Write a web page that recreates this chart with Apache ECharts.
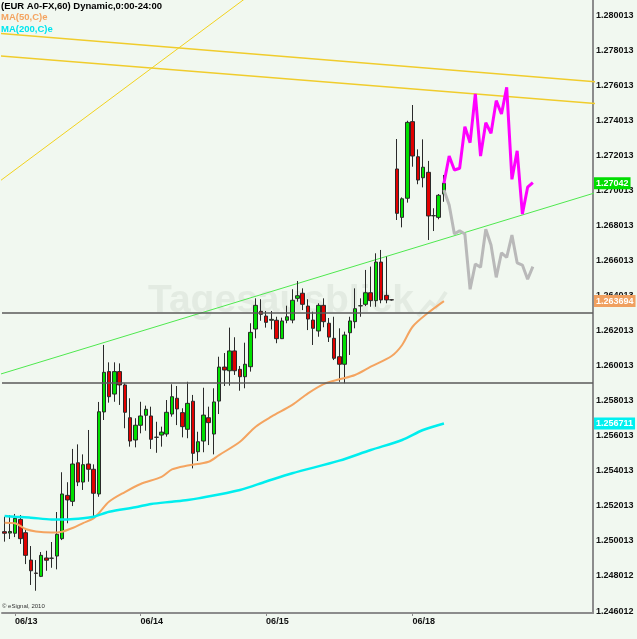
<!DOCTYPE html>
<html><head><meta charset="utf-8">
<script src="https://cdn.jsdelivr.net/npm/echarts@6.0.0/dist/echarts.min.js"></script>
<style>html,body{margin:0;padding:0;background:#f1f8f0}#c{width:637px;height:639px}</style>
</head><body><div id="c"></div>
<script>
// ---- data (EUR A0-FX, 60 min) ----
const opens = [1.25054,1.25046,1.25045,1.25124,1.25048,1.24892,1.24818,1.24799,1.24904,1.24903,
1.24915,1.25014,1.25261,1.25227,1.25447,1.25337,1.25440,1.25410,1.25269,1.25737,
1.25967,1.25839,1.25967,1.25891,1.25704,1.25577,1.25661,1.25718,1.25714,1.25593,
1.25605,1.25611,1.25725,1.25815,1.25733,1.25638,1.25798,1.25510,1.25571,1.25704,
1.25611,1.25799,1.25993,1.25972,1.26085,1.25980,1.25938,1.25995,1.26210,1.26311,
1.26284,1.26260,1.26260,1.26155,1.26260,1.26261,1.26385,1.26414,1.26341,1.26261,
1.26199,1.26345,1.26243,1.26157,1.26052,1.26009,1.26189,1.26252,1.26342,1.26351,
1.26417,1.26372,1.26592,1.26402,1.26377,1.27123,1.26847,1.26956,1.27393,1.27193,
1.27073,1.27104,1.26856,1.26847,1.26980];
const closes = [1.25045,1.25055,1.25130,1.25014,1.24919,1.24831,1.24816,1.24919,1.24891,1.24902,
1.25039,1.25269,1.25235,1.25440,1.25337,1.25436,1.25410,1.25273,1.25738,1.25963,
1.25824,1.25967,1.25891,1.25735,1.25571,1.25661,1.25714,1.25752,1.25581,1.25592,
1.25622,1.25735,1.25824,1.25754,1.25653,1.25786,1.25501,1.25567,1.25719,1.25676,
1.25794,1.25993,1.25976,1.26085,1.25972,1.25938,1.26009,1.26191,1.26345,1.26294,
1.26248,1.26265,1.26155,1.26256,1.26280,1.26374,1.26400,1.26351,1.26267,1.26214,
1.26345,1.26252,1.26164,1.26043,1.26009,1.26176,1.26256,1.26326,1.26343,1.26417,
1.26372,1.26592,1.26376,1.26376,1.26376,1.26870,1.26953,1.27389,1.27197,1.27060,
1.27133,1.26855,1.26857,1.26973,1.27042];
const lows = [1.24997,1.25012,1.25023,1.24984,1.24869,1.24750,1.24717,1.24795,1.24831,1.24848,
1.24839,1.25006,1.25102,1.25200,1.25314,1.25292,1.25339,1.25139,1.25253,1.25691,
1.25790,1.25795,1.25777,1.25644,1.25539,1.25535,1.25615,1.25630,1.25526,1.25504,
1.25539,1.25596,1.25710,1.25662,1.25592,1.25587,1.25415,1.25457,1.25507,1.25548,
1.25495,1.25725,1.25885,1.25887,1.25948,1.25858,1.25872,1.25967,1.26157,1.26257,
1.26218,1.26208,1.26129,1.26153,1.26243,1.26243,1.26366,1.26318,1.26204,1.26119,
1.26166,1.26220,1.26136,1.26033,1.25909,1.25900,1.26062,1.26214,1.26280,1.26341,
1.26337,1.26337,1.26357,1.26357,1.26372,1.26832,1.26790,1.26931,1.27136,1.27036,
1.27018,1.26718,1.26769,1.26836,1.26936];
const highs = [1.25139,1.25149,1.25155,1.25149,1.25075,1.24972,1.24892,1.24938,1.24945,1.24995,
1.25166,1.25393,1.25336,1.25526,1.25552,1.25495,1.25634,1.25438,1.25794,1.26119,
1.26020,1.26020,1.26014,1.25900,1.25815,1.25701,1.25795,1.25773,1.25767,1.25681,
1.25653,1.25805,1.25895,1.25885,1.25758,1.25909,1.25834,1.25624,1.25875,1.25767,
1.25872,1.26052,1.26073,1.26218,1.26163,1.25999,1.26132,1.26243,1.26385,1.26380,
1.26313,1.26313,1.26280,1.26275,1.26343,1.26437,1.26484,1.26442,1.26380,1.26309,
1.26357,1.26385,1.26273,1.26280,1.26214,1.26195,1.26280,1.26442,1.26385,1.26547,
1.26566,1.26642,1.26661,1.26623,1.26380,1.27294,1.26961,1.27398,1.27488,1.27235,
1.27292,1.27169,1.26899,1.26980,1.27089];

const ma50Idx = [0,2,4,6,9,11,13,15,17,18,20,23,26,30,32,35,39,41,45,48,51,55,58,61,64,67,70,74,76,78,81,84];
const ma50Val = [1.25105,1.25102,1.25069,1.25055,1.25049,1.25054,1.25075,1.25103,1.25130,1.25159,1.25226,1.25280,1.25326,1.25367,1.25409,1.25431,1.25453,1.25491,1.25567,1.25653,1.25710,1.25777,1.25843,1.25896,1.25923,1.25948,1.25995,1.26056,1.26119,1.26223,1.26303,1.263694];
const ma200Idx = [0,2,5,9,12,15,17,20,25,28,32,35,37,45,50,55,64,70,76,80,84];
const ma200Val = [1.25143,1.25139,1.25134,1.25124,1.25124,1.25130,1.25139,1.25168,1.25193,1.25212,1.25225,1.25235,1.25244,1.25292,1.25340,1.25387,1.25459,1.25520,1.25577,1.25634,1.256711];

const projIdx = [84,85,86,87,88,89,90,91,92,93,94,95,96,97,98,99,100,101];
const projUp = [1.27042,1.27197,1.27117,1.27127,1.27364,1.27273,1.27551,1.27197,1.27387,1.27327,1.27513,1.27437,1.27589,1.27064,1.27227,1.26866,1.27019,1.27045];
const projDown = [1.27003,1.26918,1.26752,1.26771,1.26752,1.26437,1.26581,1.26562,1.26779,1.26689,1.26505,1.26645,1.26619,1.26746,1.26588,1.26575,1.26494,1.26566];

const trendGreenIdx = [-1, 113], trendGreenVal = [1.25951, 1.26988];
const yellowUpIdx = [-1, 113], yellowUpVal = [1.27897, 1.27620];
const yellowLowIdx = [-1, 113], yellowLowVal = [1.27768, 1.27496];
const yellowDiagIdx = [-1, 53], yellowDiagVal = [1.27052, 1.28251];
const hLevels = [1.26300, 1.25904];

const dayTickIndex = [2, 26, 50, 78];
const dayTickText = ['06/13', '06/14', '06/15', '06/18'];
const yTickValues = [1.246012,1.248012,1.250013,1.252013,1.254013,1.256013,1.258013,1.260013,1.262013,1.264013,1.266013,1.268013,1.270013,1.272013,1.274013,1.276013,1.278013,1.280013];

const lastClose = 1.27042, lastMa50 = 1.263694, lastMa200 = 1.256711;

// ---- chart ----
const slotCount = 113;
const slots = Array.from({length: slotCount}, (_, i) => 'b' + i);
const candleData = opens.map((o, i) => [o, closes[i], lows[i], highs[i]]);
const pairs = (idx, val) => idx.map((x, i) => [x, val[i]]);
const fnt = 'Arial, "Liberation Sans", sans-serif';

function tag(value, text, bg) {
  return {
    yAxis: value,
    lineStyle: {color: 'rgba(0,0,0,0)', width: 0},
    label: {show: true, position: 'end', distance: 1, formatter: text,
      backgroundColor: bg, color: '#fff', fontWeight: 'bold', fontSize: 9,
      fontFamily: fnt, padding: [2, 2, 1, 2], lineHeight: 9}
  };
}
function trend(idx, val, color, width) {
  return {type: 'line', data: pairs(idx, val), clip: true, symbol: 'none', silent: true,
    lineStyle: {color: color, width: width}, z: 1};
}
function marks(items) {
  return {symbol: 'none', silent: true, animation: false, precision: 6, data: items};
}

const chart = echarts.init(document.getElementById('c'));
chart.setOption({
  animation: false,
  backgroundColor: '#f1f8f0',
  grid: {left: 2, right: 44, top: 0, bottom: 26, containLabel: false, outerBoundsMode: 'none'},
  xAxis: {
    type: 'category', data: slots, boundaryGap: true,
    axisLine: {show: true, lineStyle: {color: '#8c8c8c', width: 2}},
    axisTick: {show: true, alignWithLabel: true, length: 3,
      interval: (i) => dayTickIndex.indexOf(i) >= 0, lineStyle: {color: '#8c8c8c'}},
    axisLabel: {interval: (i) => dayTickIndex.indexOf(i) >= 0,
      formatter: (v, i) => { const k = dayTickIndex.indexOf(i); return k >= 0 ? dayTickText[k] : ''; },
      align: 'left', margin: 4, color: '#111', fontWeight: 'bold', fontSize: 9, fontFamily: fnt},
    splitLine: {show: false}
  },
  yAxis: {
    type: 'value', position: 'right', min: 1.24590, max: 1.28087,
    axisLine: {show: true, lineStyle: {color: '#8c8c8c', width: 2}},
    axisTick: {show: false},
    splitLine: {show: false},
    axisLabel: {customValues: yTickValues, formatter: (v) => v.toFixed(6), margin: 3,
      color: '#111', fontWeight: 'bold', fontSize: 9, fontFamily: fnt}
  },
  graphic: [
    {type: 'text', left: 1, top: 1, z: 5, style: {text: '(EUR A0-FX,60) Dynamic,0:00-24:00', font: 'bold 9.5px ' + fnt, fill: '#000'}},
    {type: 'text', left: 1, top: 12.5, z: 5, style: {text: 'MA(50,C)e', font: 'bold 9.5px ' + fnt, fill: '#f4a460'}},
    {type: 'text', left: 1, top: 24.5, z: 5, style: {text: 'MA(200,C)e', font: 'bold 9.5px ' + fnt, fill: '#00e5ee'}},
    {type: 'text', left: 148, top: 282, z: 0, style: {text: 'Tagesausblick', font: 'bold 39px ' + fnt, fill: '#e3ebe2'}},
    {type: 'polyline', z: 0, shape: {points: [[418, 316], [430, 302], [436, 307], [446, 292]]}, style: {stroke: '#e3ebe2', lineWidth: 4, fill: null}},
    {type: 'text', left: 2, top: 603, z: 5, style: {text: '\u00a9 eSignal, 2010', font: '6px ' + fnt, fill: '#333'}}
  ],
  series: [
    trend(yellowDiagIdx, yellowDiagVal, '#f2d21e', 1),
    trend(yellowUpIdx, yellowUpVal, '#f0cc2c', 1.6),
    trend(yellowLowIdx, yellowLowVal, '#f0cc2c', 1.6),
    trend(trendGreenIdx, trendGreenVal, '#4ee84e', 1),
    {
      type: 'candlestick', data: candleData, barWidth: 4, clip: false, z: 2,
      itemStyle: {color: '#00e000', color0: '#e00000', borderColor: '#2a2a2a', borderColor0: '#2a2a2a', borderWidth: 1},
      markLine: marks([
        {yAxis: hLevels[0], lineStyle: {color: '#5a5a5a', width: 1.5, type: 'solid'}, label: {show: false}},
        {yAxis: hLevels[1], lineStyle: {color: '#5a5a5a', width: 1.5, type: 'solid'}, label: {show: false}},
        tag(lastClose, lastClose.toFixed(5), '#00dd00')
      ])
    },
    {type: 'line', data: pairs(ma50Idx, ma50Val), symbol: 'none', smooth: 0.3, clip: false, z: 3,
      lineStyle: {color: '#f4a460', width: 2},
      markLine: marks([tag(lastMa50, lastMa50.toFixed(6), '#f0a060')])},
    {type: 'line', data: pairs(ma200Idx, ma200Val), symbol: 'none', smooth: 0.3, clip: false, z: 3,
      lineStyle: {color: '#00eeee', width: 2.5},
      markLine: marks([tag(lastMa200, lastMa200.toFixed(6), '#00f0f0')])},
    {type: 'line', data: pairs(projIdx, projDown), symbol: 'none', z: 3, lineStyle: {color: '#b9b9b9', width: 3}},
    {type: 'line', data: pairs(projIdx, projUp), symbol: 'none', z: 4, lineStyle: {color: '#ff00ff', width: 3}}
  ]
});
</script>
</body></html>
